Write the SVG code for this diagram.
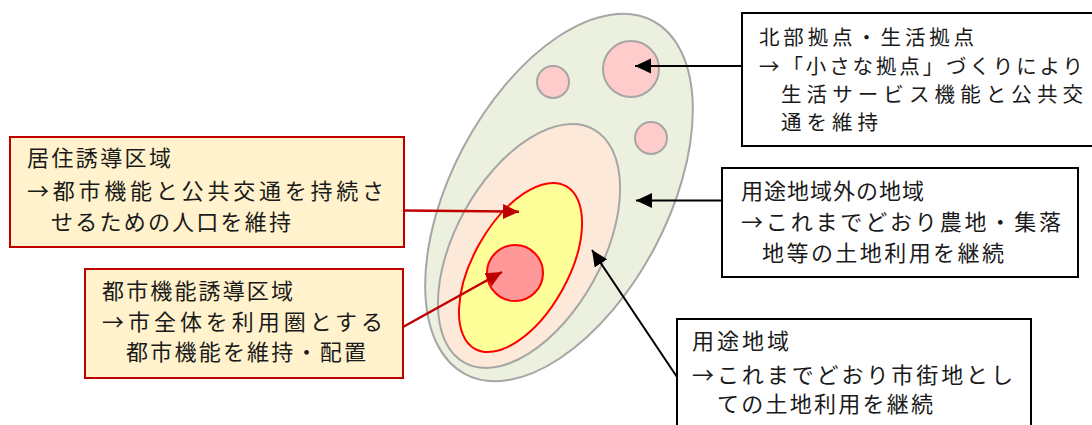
<svg xmlns="http://www.w3.org/2000/svg" width="1092" height="425" viewBox="0 0 1092 425">
<style>
.t{font-family:"Noto Sans CJK JP","Noto Sans",sans-serif;font-size:22px;fill:#1a1a1a}
.ts{font-size:20.5px}
.gray{stroke:#A6A6A6;stroke-width:2}
.red{stroke:#FF0000;stroke-width:2}
.rbox{fill:#FFF2CC;stroke:#C00000;stroke-width:2}
.kbox{fill:#FFFFFF;stroke:#000000;stroke-width:2}
.kline{stroke:#000000;stroke-width:2;fill:none;marker-end:url(#ak)}
.rline{stroke:#C00000;stroke-width:2.5;fill:none;marker-end:url(#ar)}
</style>
<defs>
<marker id="ak" markerUnits="userSpaceOnUse" markerWidth="17" markerHeight="16" refX="16" refY="7.5" orient="auto" viewBox="0 0 17 16">
<path d="M0,0 L16,7.5 L0,15 z" fill="#000000"/>
</marker>
<marker id="ar" markerUnits="userSpaceOnUse" markerWidth="17" markerHeight="16" refX="16" refY="7.5" orient="auto" viewBox="0 0 17 16">
<path d="M0,0 L16,7.5 L0,15 z" fill="#C00000"/>
</marker>
</defs>
<g id="zones">
<ellipse id="outer" cx="559" cy="197.5" rx="108" ry="200" transform="rotate(28 559 197.5)" fill="#EBF1DE" class="gray"/>
<circle id="hub-large" cx="631" cy="69" r="28" fill="#FFCCCC" class="gray"/>
<circle id="hub-small1" cx="553" cy="82" r="16" fill="#FFCCCC" class="gray"/>
<circle id="hub-small2" cx="651" cy="138" r="16" fill="#FFCCCC" class="gray"/>
<ellipse id="youto" cx="529" cy="246" rx="73.4" ry="133.3" transform="rotate(29 529 246)" fill="#FDE9D9" class="gray"/>
<ellipse id="kyoju" cx="520.5" cy="267.5" rx="47.4" ry="93.2" transform="rotate(29.3 520.5 267.5)" fill="#FFFF99" class="red"/>
<circle id="toshi" cx="515" cy="273" r="28" fill="#FF9999" class="red"/>
</g>
<g id="connectors">
<line class="kline" x1="742" y1="66" x2="635" y2="66"/>
<line class="kline" x1="723" y1="200.5" x2="636" y2="200.5"/>
<line class="kline" x1="677" y1="377" x2="592" y2="250"/>
<line class="rline" x1="404" y1="210.5" x2="519" y2="211.7"/>
<line class="rline" x1="403" y1="327" x2="502" y2="272"/>
</g>
<g id="node-kyoju">
<rect class="rbox" x="10" y="137" width="394" height="110"/>
<text class="t" x="27" y="166" textLength="144" lengthAdjust="spacing">居住誘導区域</text>
<text class="t" x="27" y="199" textLength="357" lengthAdjust="spacing">→都市機能と公共交通を持続さ</text>
<text class="t" x="51" y="230" textLength="240" lengthAdjust="spacing">せるための人口を維持</text>
</g>
<g id="node-toshi">
<rect class="rbox" x="85" y="269" width="318" height="109"/>
<text class="t" x="102" y="298.5" textLength="191" lengthAdjust="spacing">都市機能誘導区域</text>
<text class="t" x="102" y="330" textLength="281" lengthAdjust="spacing">→市全体を利用圏とする</text>
<text class="t" x="126" y="360" textLength="240" lengthAdjust="spacing">都市機能を維持・配置</text>
</g>
<g id="node-hokubu">
<rect class="kbox" x="742" y="13" width="360" height="133"/>
<text class="t ts" x="759" y="45" textLength="215" lengthAdjust="spacing">北部拠点・生活拠点</text>
<text class="t ts" x="759" y="73.5" textLength="324" lengthAdjust="spacing">→「小さな拠点」づくりにより</text>
<text class="t ts" x="781" y="101.5" textLength="302" lengthAdjust="spacing">生活サービス機能と公共交</text>
<text class="t ts" x="781" y="130" textLength="97" lengthAdjust="spacing">通を維持</text>
</g>
<g id="node-gai">
<rect class="kbox" x="722" y="168" width="356" height="109"/>
<text class="t" x="741" y="198.5" textLength="183" lengthAdjust="spacing">用途地域外の地域</text>
<text class="t" x="741" y="230" textLength="320" lengthAdjust="spacing">→これまでどおり農地・集落</text>
<text class="t" x="762" y="261" textLength="242" lengthAdjust="spacing">地等の土地利用を継続</text>
</g>
<g id="node-youto">
<rect class="kbox" x="677" y="319" width="354" height="120"/>
<text class="t" x="692" y="348.5" textLength="97" lengthAdjust="spacing">用途地域</text>
<text class="t" x="692" y="383" textLength="321" lengthAdjust="spacing">→これまでどおり市街地とし</text>
<text class="t" x="717" y="412" textLength="216" lengthAdjust="spacing">ての土地利用を継続</text>
</g>
</svg>
